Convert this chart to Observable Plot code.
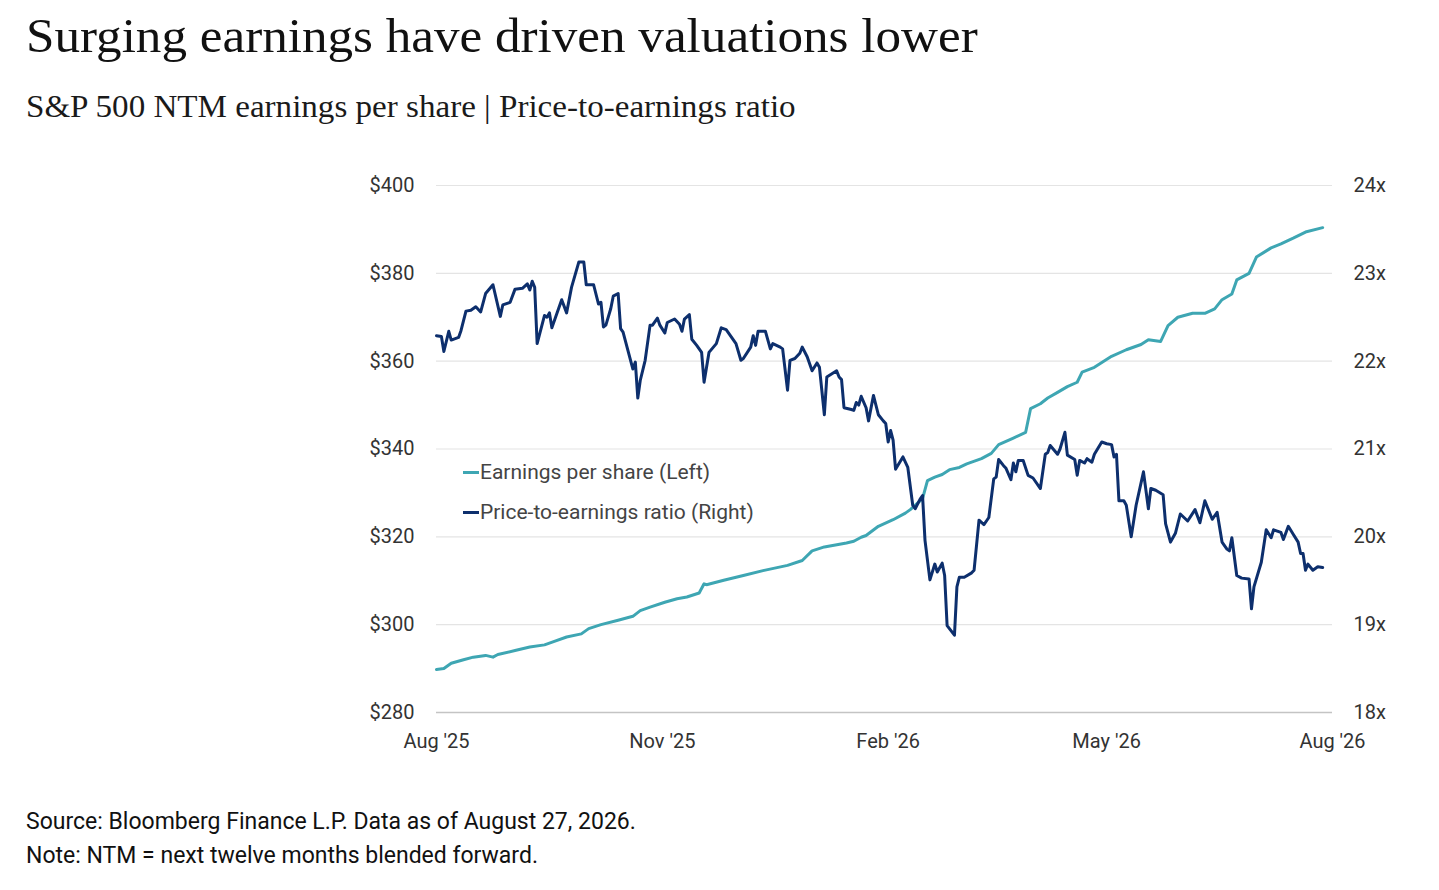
<!DOCTYPE html>
<html><head><meta charset="utf-8">
<script src="https://cdn.jsdelivr.net/npm/d3@7"></script>
<script src="https://cdn.jsdelivr.net/npm/@observablehq/plot@0.6"></script>
<style>
body{margin:0;background:#fff;width:1439px;height:890px;position:relative;overflow:hidden;font-family:Roboto,sans-serif}
.t{position:absolute;left:26px;white-space:nowrap;line-height:1;transform-origin:0 0}
#title{top:12px;font-family:"Liberation Serif",serif;font-size:48px;color:#111;transform:scaleX(1.065)}
#subtitle{top:91px;font-family:"Liberation Serif",serif;font-size:31px;color:#1a1a1a;transform:scaleX(1.067)}
#source{top:810px;font-size:23px;color:#111}
#note{top:844px;font-size:23px;color:#111}
#chart{position:absolute;left:0;top:150px}
#legend{position:absolute;left:463px;top:460px;font-size:21px;color:#444;line-height:1}
#legend .row{height:24px;display:flex;align-items:center;margin-bottom:16px}
#legend .sw{display:inline-block;width:16px;height:3px;margin-right:1px}
</style></head><body>
<div id="title" class="t">Surging earnings have driven valuations lower</div>
<div id="subtitle" class="t">S&amp;P 500 NTM earnings per share | Price-to-earnings ratio</div>
<div id="chart"></div>
<div id="legend"></div>
<div id="source" class="t">Source: Bloomberg Finance L.P. Data as of August 27, 2026.</div>
<div id="note" class="t">Note: NTM = next twelve months blended forward.</div>
<script>
// EPS (left axis, $)
const epsDates = ["2025-08-01","2025-08-04","2025-08-07","2025-08-12","2025-08-16","2025-08-21","2025-08-24","2025-08-26","2025-09-02","2025-09-08","2025-09-14","2025-09-18","2025-09-23","2025-09-29","2025-10-02","2025-10-07","2025-10-14","2025-10-20","2025-10-23","2025-10-27","2025-11-02","2025-11-07","2025-11-11","2025-11-16","2025-11-18","2025-11-19","2025-11-26","2025-12-04","2025-12-12","2025-12-22","2025-12-28","2026-01-01","2026-01-06","2026-01-15","2026-01-18","2026-01-21","2026-01-23","2026-01-28","2026-02-03","2026-02-08","2026-02-10","2026-02-15","2026-02-17","2026-02-20","2026-02-23","2026-02-26","2026-03-02","2026-03-05","2026-03-09","2026-03-11","2026-03-15","2026-03-18","2026-03-24","2026-03-29","2026-03-31","2026-04-04","2026-04-07","2026-04-11","2026-04-15","2026-04-19","2026-04-21","2026-04-26","2026-05-03","2026-05-09","2026-05-15","2026-05-18","2026-05-23","2026-05-26","2026-05-30","2026-06-05","2026-06-10","2026-06-14","2026-06-17","2026-06-21","2026-06-23","2026-06-28","2026-07-01","2026-07-07","2026-07-11","2026-07-16","2026-07-21","2026-07-28"];
const epsValues = [289.8,290.0,291.2,292.0,292.6,293.0,292.6,293.2,294.1,294.9,295.4,296.2,297.2,297.9,299.1,300.0,301.0,301.9,303.2,304.0,305.1,305.9,306.3,307.2,309.3,309.1,310.1,311.2,312.3,313.5,314.6,316.8,317.7,318.6,319.0,319.9,320.3,322.4,323.9,325.4,326.2,328.7,332.8,333.6,334.2,335.3,335.8,336.6,337.4,337.8,339.0,341.0,342.5,343.8,349.2,350.3,351.6,352.9,354.2,355.2,357.5,358.6,361.1,362.6,363.8,364.9,364.5,368.1,370.0,370.9,370.9,371.9,374.0,375.3,378.5,380.0,383.7,385.8,386.7,388.0,389.4,390.4];

// Price-to-earnings ratio (right axis, x)
const peDates = ["2025-08-01","2025-08-03","2025-08-04","2025-08-06","2025-08-07","2025-08-10","2025-08-11","2025-08-13","2025-08-15","2025-08-17","2025-08-19","2025-08-21","2025-08-24","2025-08-27","2025-08-28","2025-08-31","2025-09-02","2025-09-05","2025-09-07","2025-09-08","2025-09-09","2025-09-10","2025-09-11","2025-09-14","2025-09-15","2025-09-16","2025-09-17","2025-09-21","2025-09-23","2025-09-25","2025-09-28","2025-09-30","2025-10-01","2025-10-04","2025-10-06","2025-10-07","2025-10-08","2025-10-09","2025-10-11","2025-10-12","2025-10-14","2025-10-15","2025-10-16","2025-10-18","2025-10-20","2025-10-21","2025-10-22","2025-10-23","2025-10-25","2025-10-27","2025-10-28","2025-10-30","2025-10-31","2025-11-02","2025-11-03","2025-11-06","2025-11-08","2025-11-09","2025-11-10","2025-11-12","2025-11-13","2025-11-15","2025-11-17","2025-11-18","2025-11-20","2025-11-23","2025-11-25","2025-11-27","2025-11-30","2025-12-01","2025-12-03","2025-12-04","2025-12-07","2025-12-08","2025-12-09","2025-12-10","2025-12-13","2025-12-15","2025-12-16","2025-12-19","2025-12-20","2025-12-22","2025-12-23","2025-12-25","2025-12-27","2025-12-28","2025-12-30","2026-01-01","2026-01-03","2026-01-04","2026-01-06","2026-01-07","2026-01-11","2026-01-12","2026-01-13","2026-01-14","2026-01-17","2026-01-18","2026-01-19","2026-01-20","2026-01-21","2026-01-23","2026-01-24","2026-01-26","2026-01-28","2026-01-30","2026-01-31","2026-02-01","2026-02-02","2026-02-03","2026-02-04","2026-02-07","2026-02-09","2026-02-11","2026-02-12","2026-02-14","2026-02-15","2026-02-16","2026-02-18","2026-02-20","2026-02-21","2026-02-23","2026-02-24","2026-02-25","2026-02-28","2026-03-01","2026-03-02","2026-03-04","2026-03-07","2026-03-08","2026-03-10","2026-03-12","2026-03-14","2026-03-16","2026-03-17","2026-03-18","2026-03-20","2026-03-21","2026-03-23","2026-03-24","2026-03-25","2026-03-26","2026-03-28","2026-03-30","2026-04-01","2026-04-04","2026-04-06","2026-04-07","2026-04-08","2026-04-11","2026-04-12","2026-04-14","2026-04-15","2026-04-18","2026-04-19","2026-04-20","2026-04-22","2026-04-23","2026-04-25","2026-04-26","2026-04-29","2026-05-01","2026-05-03","2026-05-04","2026-05-05","2026-05-06","2026-05-08","2026-05-09","2026-05-11","2026-05-13","2026-05-16","2026-05-18","2026-05-19","2026-05-21","2026-05-24","2026-05-25","2026-05-27","2026-05-29","2026-05-31","2026-06-03","2026-06-06","2026-06-08","2026-06-10","2026-06-13","2026-06-15","2026-06-17","2026-06-19","2026-06-20","2026-06-21","2026-06-23","2026-06-25","2026-06-28","2026-06-29","2026-06-30","2026-07-03","2026-07-05","2026-07-07","2026-07-08","2026-07-11","2026-07-12","2026-07-14","2026-07-16","2026-07-18","2026-07-19","2026-07-20","2026-07-21","2026-07-22","2026-07-24","2026-07-26","2026-07-28"];
const peValues = [22.29,22.28,22.11,22.34,22.24,22.27,22.35,22.57,22.58,22.62,22.56,22.77,22.87,22.51,22.64,22.67,22.82,22.83,22.88,22.81,22.91,22.84,22.20,22.52,22.50,22.55,22.38,22.70,22.55,22.84,23.13,23.13,22.87,22.87,22.65,22.67,22.39,22.41,22.60,22.74,22.77,22.37,22.33,22.12,21.91,21.99,21.58,21.78,22.01,22.41,22.41,22.49,22.41,22.32,22.44,22.48,22.42,22.34,22.48,22.53,22.25,22.18,22.10,21.76,22.10,22.20,22.38,22.36,22.24,22.20,22.01,22.03,22.16,22.29,22.18,22.34,22.34,22.14,22.20,22.16,22.14,21.67,22.01,22.03,22.09,22.16,22.05,21.89,21.98,21.93,21.39,21.82,21.89,21.82,21.79,21.47,21.45,21.44,21.53,21.50,21.60,21.47,21.32,21.61,21.39,21.32,21.29,21.08,21.21,21.10,20.77,20.91,20.79,20.36,20.32,20.43,20.47,19.96,19.51,19.69,19.60,19.70,19.56,18.99,18.88,19.43,19.54,19.54,19.59,19.62,20.19,20.14,20.22,20.66,20.68,20.88,20.81,20.78,20.65,20.84,20.74,20.87,20.87,20.70,20.67,20.55,20.94,20.96,21.04,20.94,21.00,21.19,20.93,20.88,20.70,20.87,20.84,20.89,20.85,20.94,21.08,21.06,21.05,20.91,20.94,20.41,20.41,20.36,20.00,20.36,20.74,20.32,20.55,20.53,20.48,20.15,19.94,20.04,20.26,20.18,20.31,20.16,20.41,20.20,20.28,19.94,19.86,19.84,19.99,19.56,19.53,19.52,19.18,19.43,19.71,20.08,19.99,20.08,20.05,19.97,20.12,20.03,19.94,19.81,19.81,19.62,19.69,19.62,19.66,19.65];

// Axes
const xTickDates = ["2025-08-01","2025-11-01","2026-02-01","2026-05-01","2026-08-01"];
const xTickLabels = ["Aug '25","Nov '25","Feb '26","May '26","Aug '26"];
const leftTicks = [280,300,320,340,360,380,400];
const leftTickLabels = ["$280","$300","$320","$340","$360","$380","$400"];
const rightTicks = [18,19,20,21,22,23,24];
const rightTickLabels = ["18x","19x","20x","21x","22x","23x","24x"];

const seriesNames = ["Earnings per share (Left)","Price-to-earnings ratio (Right)"];
const seriesColors = ["#3ea6b3","#0d2f6d"];

const parse = d3.utcParse("%Y-%m-%d");
// map the right-axis ratio onto the left-axis dollar scale
const toLeft = d3.scaleLinear().domain([18,24]).range([280,400]);

const eps = epsDates.map((d,i)=>({date:parse(d), value:epsValues[i]}));
const pe = peDates.map((d,i)=>({date:parse(d), value:toLeft(peValues[i])}));
const xTicks = xTickDates.map(parse);
const xLab = new Map(xTicks.map((d,i)=>[+d, xTickLabels[i]]));
const lLab = new Map(leftTicks.map((d,i)=>[d, leftTickLabels[i]]));
const rTicksLeft = rightTicks.map(toLeft);
const rLab = new Map(rTicksLeft.map((d,i)=>[d, rightTickLabels[i]]));

const chart = Plot.plot({
  width:1439, height:622,
  marginLeft:436, marginRight:107, marginTop:35, marginBottom:60,
  style:{fontFamily:"Roboto, sans-serif", fontSize:"20px", color:"#333", background:"transparent", overflow:"visible"},
  x:{type:"utc", domain:[xTicks[0], xTicks[xTicks.length-1]]},
  y:{domain:[280,400]},
  marks:[
    Plot.ruleY(leftTicks.slice(1), {stroke:"#e4e4e4", strokeWidth:1.2}),
    Plot.ruleY([leftTicks[0]], {stroke:"#c4c4c4", strokeWidth:1.5}),
    Plot.axisY({anchor:"left", ticks:leftTicks, tickFormat:d=>lLab.get(d), tickSize:0, tickPadding:22, label:null}),
    Plot.axisY({anchor:"right", ticks:rTicksLeft, tickFormat:d=>rLab.get(d), tickSize:0, tickPadding:21, label:null}),
    Plot.axisX({ticks:xTicks, tickFormat:d=>xLab.get(+d), tickSize:0, tickPadding:21, label:null}),
    Plot.lineY(eps, {x:"date", y:"value", stroke:seriesColors[0], strokeWidth:3}),
    Plot.lineY(pe, {x:"date", y:"value", stroke:seriesColors[1], strokeWidth:3})
  ]
});
document.getElementById("chart").appendChild(chart);

const legend = document.getElementById("legend");
seriesNames.forEach((n,i)=>{
  const row = document.createElement("div"); row.className="row";
  const sw = document.createElement("span"); sw.className="sw"; sw.style.background=seriesColors[i];
  const tx = document.createElement("span"); tx.textContent=n;
  row.appendChild(sw); row.appendChild(tx); legend.appendChild(row);
});
</script>
</body></html>
